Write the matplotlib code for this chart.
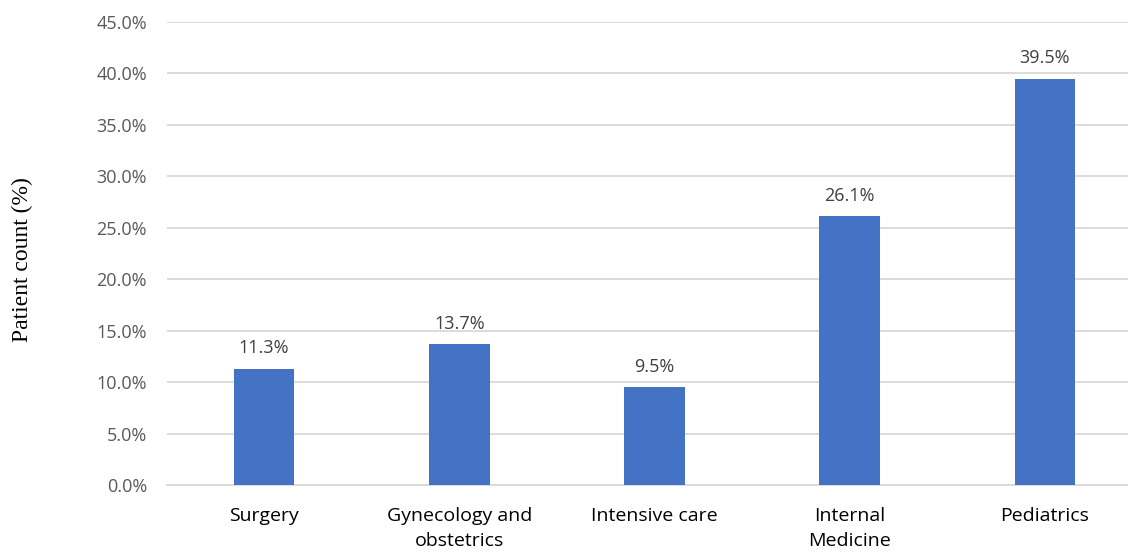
import matplotlib
matplotlib.use('Agg')
import matplotlib.pyplot as plt
from matplotlib.ticker import FuncFormatter

# chart data
departments = ['Surgery', 'Gynecology and\nobstetrics', 'Intensive care', 'Internal\nMedicine', 'Pediatrics']
patient_pct = [11.3, 13.7, 9.5, 26.1, 39.5]
y_ticks = [0, 5, 10, 15, 20, 25, 30, 35, 40, 45]

fig = plt.figure(figsize=(11.28, 5.52), dpi=100)
# axes area is a bit wider than the picture on the right, like the source
ax = fig.add_axes([166.5 / 1128, 67 / 552, 976 / 1128, 463 / 552])

x = range(len(departments))
bars = ax.bar(x, patient_pct, width=0.31, color='#4472C4', zorder=3)

# value labels above bars
for xi, v in zip(x, patient_pct):
    ax.text(xi, v + 1.1, f'{v:.1f}%', ha='center', va='bottom',
            fontsize=13, color='#404040', family='Open Sans')

ax.set_xlim(-0.5, len(departments) - 0.5)
ax.set_ylim(0, 45)
ax.set_yticks(y_ticks)
ax.yaxis.set_major_formatter(FuncFormatter(lambda v, p: f'{v:.1f}%'))
ax.set_xticks(list(x))
ax.set_xticklabels(departments, fontsize=14, color='#000000', family='Open Sans', linespacing=1.5)
for lbl in ax.get_yticklabels():
    lbl.set_fontsize(13)
    lbl.set_color('#595959')
    lbl.set_family('Open Sans')

ax.grid(axis='y', color='#D9D9D9', linewidth=1.3, zorder=0)
ax.tick_params(axis='both', length=0)
ax.tick_params(axis='x', pad=16)
ax.tick_params(axis='y', pad=14)
for s in ['top', 'right', 'left']:
    ax.spines[s].set_visible(False)
ax.spines['bottom'].set_color('#D9D9D9')
ax.spines['bottom'].set_linewidth(1.3)

fig.text(22 / 1128, (552 - 260) / 552, 'Patient count (%)', rotation=90,
         ha='center', va='center', fontsize=17, family='Liberation Serif')

fig.savefig('out.png', dpi=100)
